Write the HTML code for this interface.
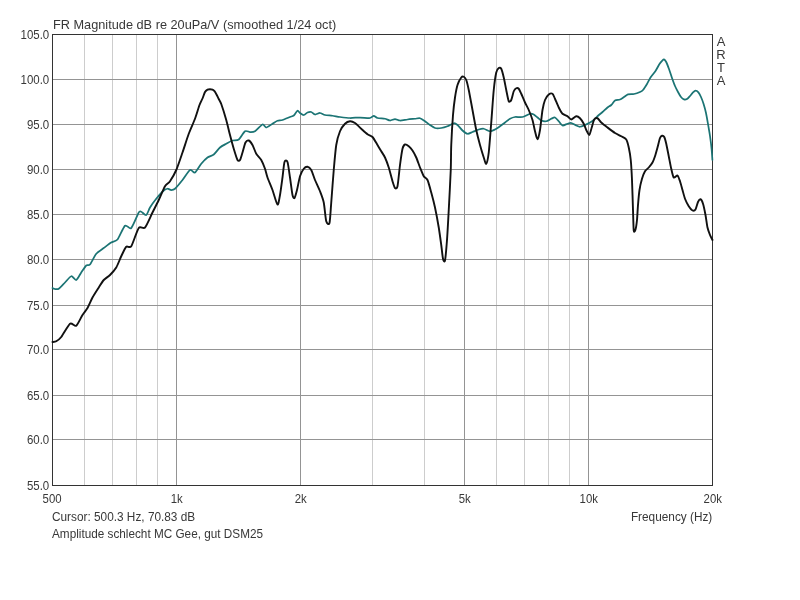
<!DOCTYPE html>
<html><head><meta charset="utf-8"><title>FR Magnitude</title>
<style>html,body{margin:0;padding:0;background:#fff;width:800px;height:600px;overflow:hidden}</style></head>
<body>
<svg width="800" height="600" viewBox="0 0 800 600" style="position:absolute;left:0;top:0">
<rect width="800" height="600" fill="#fff"/>
<line x1="84.5" y1="34.5" x2="84.5" y2="485.5" stroke="#cdcdcd" stroke-width="1"/>
<line x1="112.5" y1="34.5" x2="112.5" y2="485.5" stroke="#cdcdcd" stroke-width="1"/>
<line x1="136.5" y1="34.5" x2="136.5" y2="485.5" stroke="#cdcdcd" stroke-width="1"/>
<line x1="157.5" y1="34.5" x2="157.5" y2="485.5" stroke="#cdcdcd" stroke-width="1"/>
<line x1="372.5" y1="34.5" x2="372.5" y2="485.5" stroke="#cdcdcd" stroke-width="1"/>
<line x1="424.5" y1="34.5" x2="424.5" y2="485.5" stroke="#cdcdcd" stroke-width="1"/>
<line x1="496.5" y1="34.5" x2="496.5" y2="485.5" stroke="#cdcdcd" stroke-width="1"/>
<line x1="524.5" y1="34.5" x2="524.5" y2="485.5" stroke="#cdcdcd" stroke-width="1"/>
<line x1="548.5" y1="34.5" x2="548.5" y2="485.5" stroke="#cdcdcd" stroke-width="1"/>
<line x1="569.5" y1="34.5" x2="569.5" y2="485.5" stroke="#cdcdcd" stroke-width="1"/>
<line x1="52.5" y1="79.5" x2="712.5" y2="79.5" stroke="#949494" stroke-width="1"/>
<line x1="52.5" y1="124.5" x2="712.5" y2="124.5" stroke="#949494" stroke-width="1"/>
<line x1="52.5" y1="169.5" x2="712.5" y2="169.5" stroke="#949494" stroke-width="1"/>
<line x1="52.5" y1="214.5" x2="712.5" y2="214.5" stroke="#949494" stroke-width="1"/>
<line x1="52.5" y1="259.5" x2="712.5" y2="259.5" stroke="#949494" stroke-width="1"/>
<line x1="52.5" y1="305.5" x2="712.5" y2="305.5" stroke="#949494" stroke-width="1"/>
<line x1="52.5" y1="349.5" x2="712.5" y2="349.5" stroke="#949494" stroke-width="1"/>
<line x1="52.5" y1="395.5" x2="712.5" y2="395.5" stroke="#949494" stroke-width="1"/>
<line x1="52.5" y1="439.5" x2="712.5" y2="439.5" stroke="#949494" stroke-width="1"/>
<line x1="176.5" y1="34.5" x2="176.5" y2="485.5" stroke="#949494" stroke-width="1"/>
<line x1="300.5" y1="34.5" x2="300.5" y2="485.5" stroke="#949494" stroke-width="1"/>
<line x1="464.5" y1="34.5" x2="464.5" y2="485.5" stroke="#949494" stroke-width="1"/>
<line x1="588.5" y1="34.5" x2="588.5" y2="485.5" stroke="#949494" stroke-width="1"/>
<rect x="52.5" y="34.5" width="660.0" height="451.0" fill="none" stroke="#333" stroke-width="1"/>
<path d="M52.50,288.00 C52.81,288.12 54.22,288.91 55.00,289.00 C55.78,289.09 57.50,289.56 58.75,288.75 C60.00,287.94 63.44,284.06 65.00,282.50 C66.56,280.94 69.84,276.56 71.25,276.25 C72.66,275.94 75.00,280.47 76.25,280.00 C77.50,279.53 80.00,274.31 81.25,272.50 C82.50,270.69 85.16,266.50 86.25,265.50 C87.34,264.50 88.75,265.97 90.00,264.50 C91.25,263.03 94.53,255.81 96.25,253.75 C97.97,251.69 101.88,249.41 103.75,248.00 C105.62,246.59 109.53,243.56 111.25,242.50 C112.97,241.44 115.78,241.59 117.50,239.50 C119.22,237.41 123.28,227.19 125.00,225.75 C126.72,224.31 129.53,229.66 131.25,228.00 C132.97,226.34 137.50,214.53 138.75,212.50 C140.00,210.47 140.31,211.44 141.25,211.75 C142.19,212.06 145.16,215.53 146.25,215.00 C147.34,214.47 148.75,209.53 150.00,207.50 C151.25,205.47 154.53,200.88 156.25,198.75 C157.97,196.62 162.34,191.75 163.75,190.50 C165.16,189.25 166.56,188.81 167.50,188.75 C168.44,188.69 170.31,190.00 171.25,190.00 C172.19,190.00 173.59,190.00 175.00,188.75 C176.41,187.50 180.62,182.34 182.50,180.00 C184.38,177.66 188.44,170.94 190.00,170.00 C191.56,169.06 193.59,173.28 195.00,172.50 C196.41,171.72 199.69,165.62 201.25,163.75 C202.81,161.88 205.94,158.66 207.50,157.50 C209.06,156.34 212.19,155.75 213.75,154.50 C215.31,153.25 218.44,148.84 220.00,147.50 C221.56,146.16 224.69,144.62 226.25,143.75 C227.81,142.88 230.94,141.03 232.50,140.50 C234.06,139.97 237.19,140.66 238.75,139.50 C240.31,138.34 243.59,132.19 245.00,131.25 C246.41,130.31 248.75,132.00 250.00,132.00 C251.25,132.00 253.44,132.19 255.00,131.25 C256.56,130.31 261.09,124.97 262.50,124.50 C263.91,124.03 265.00,127.59 266.25,127.50 C267.50,127.41 271.09,124.59 272.50,123.75 C273.91,122.91 276.25,121.22 277.50,120.75 C278.75,120.28 280.94,120.47 282.50,120.00 C284.06,119.53 288.59,117.56 290.00,117.00 C291.41,116.44 292.81,116.28 293.75,115.50 C294.69,114.72 296.72,111.06 297.50,110.75 C298.28,110.44 299.22,112.47 300.00,113.00 C300.78,113.53 302.81,115.06 303.75,115.00 C304.69,114.94 306.56,112.88 307.50,112.50 C308.44,112.12 310.31,111.75 311.25,112.00 C312.19,112.25 313.91,114.38 315.00,114.50 C316.09,114.62 318.75,112.94 320.00,113.00 C321.25,113.06 323.44,114.66 325.00,115.00 C326.56,115.34 330.62,115.50 332.50,115.75 C334.38,116.00 337.81,116.72 340.00,117.00 C342.19,117.28 347.50,117.94 350.00,118.00 C352.50,118.06 357.50,117.50 360.00,117.50 C362.50,117.50 368.28,118.22 370.00,118.00 C371.72,117.78 372.81,115.75 373.75,115.75 C374.69,115.75 376.09,117.62 377.50,118.00 C378.91,118.38 383.44,118.44 385.00,118.75 C386.56,119.06 388.75,120.47 390.00,120.50 C391.25,120.53 393.75,119.00 395.00,119.00 C396.25,119.00 398.44,120.44 400.00,120.50 C401.56,120.56 405.62,119.72 407.50,119.50 C409.38,119.28 413.44,118.91 415.00,118.75 C416.56,118.59 418.75,117.94 420.00,118.25 C421.25,118.56 423.75,120.41 425.00,121.25 C426.25,122.09 428.75,124.16 430.00,125.00 C431.25,125.84 433.59,127.62 435.00,128.00 C436.41,128.38 439.69,128.22 441.25,128.00 C442.81,127.78 445.94,126.84 447.50,126.25 C449.06,125.66 452.50,123.41 453.75,123.25 C455.00,123.09 456.41,124.09 457.50,125.00 C458.59,125.91 461.25,129.41 462.50,130.50 C463.75,131.59 466.25,133.56 467.50,133.75 C468.75,133.94 471.09,132.53 472.50,132.00 C473.91,131.47 477.34,129.91 478.75,129.50 C480.16,129.09 482.34,128.53 483.75,128.75 C485.16,128.97 488.59,131.16 490.00,131.25 C491.41,131.34 493.75,130.12 495.00,129.50 C496.25,128.88 498.75,127.12 500.00,126.25 C501.25,125.38 503.75,123.44 505.00,122.50 C506.25,121.56 508.75,119.44 510.00,118.75 C511.25,118.06 513.44,117.22 515.00,117.00 C516.56,116.78 520.62,117.41 522.50,117.00 C524.38,116.59 528.59,114.06 530.00,113.75 C531.41,113.44 532.81,114.03 533.75,114.50 C534.69,114.97 536.56,116.75 537.50,117.50 C538.44,118.25 540.16,120.03 541.25,120.50 C542.34,120.97 545.00,121.47 546.25,121.25 C547.50,121.03 550.16,119.22 551.25,118.75 C552.34,118.28 554.06,117.19 555.00,117.50 C555.94,117.81 557.81,120.25 558.75,121.25 C559.69,122.25 561.41,125.19 562.50,125.50 C563.59,125.81 566.41,124.06 567.50,123.75 C568.59,123.44 570.16,122.78 571.25,123.00 C572.34,123.22 575.16,125.03 576.25,125.50 C577.34,125.97 578.91,126.81 580.00,126.75 C581.09,126.69 583.75,125.53 585.00,125.00 C586.25,124.47 588.91,123.12 590.00,122.50 C591.09,121.88 592.81,120.78 593.75,120.00 C594.69,119.22 596.41,117.25 597.50,116.25 C598.59,115.25 601.25,113.09 602.50,112.00 C603.75,110.91 606.41,108.38 607.50,107.50 C608.59,106.62 610.31,105.88 611.25,105.00 C612.19,104.12 613.91,101.19 615.00,100.50 C616.09,99.81 618.88,99.94 620.00,99.50 C621.12,99.06 623.00,97.64 624.00,97.00 C625.00,96.36 626.75,94.78 628.00,94.40 C629.25,94.03 632.50,94.30 634.00,94.00 C635.50,93.70 638.88,92.50 640.00,92.00 C641.12,91.50 642.12,91.00 643.00,90.00 C643.88,89.00 646.06,85.56 647.00,84.00 C647.94,82.44 649.44,79.12 650.50,77.50 C651.56,75.88 654.38,72.69 655.50,71.00 C656.62,69.31 658.65,65.30 659.50,64.00 C660.35,62.70 661.74,61.18 662.30,60.60 C662.86,60.02 663.51,59.23 664.00,59.40 C664.49,59.57 665.58,60.80 666.20,62.00 C666.83,63.20 668.27,67.00 669.00,69.00 C669.73,71.00 671.25,75.88 672.00,78.00 C672.75,80.12 674.25,84.25 675.00,86.00 C675.75,87.75 677.25,90.62 678.00,92.00 C678.75,93.38 680.25,96.08 681.00,97.00 C681.75,97.92 683.25,99.15 684.00,99.40 C684.75,99.65 686.25,99.42 687.00,99.00 C687.75,98.58 689.25,96.83 690.00,96.00 C690.75,95.17 692.30,93.08 693.00,92.40 C693.70,91.73 694.93,90.60 695.60,90.60 C696.27,90.60 697.73,91.60 698.40,92.40 C699.07,93.20 700.35,95.55 701.00,97.00 C701.65,98.45 702.98,102.00 703.60,104.00 C704.23,106.00 705.45,110.50 706.00,113.00 C706.55,115.50 707.50,121.12 708.00,124.00 C708.50,126.88 709.55,132.88 710.00,136.00 C710.45,139.12 711.30,146.00 711.60,149.00 C711.90,152.00 712.30,158.62 712.40,160.00" fill="none" stroke="#1b7474" stroke-width="1.75" stroke-linejoin="round" stroke-linecap="round"/>
<path d="M52.50,342.00 C52.97,341.91 55.16,341.88 56.25,341.25 C57.34,340.62 59.53,339.19 61.25,337.00 C62.97,334.81 68.12,325.16 70.00,323.75 C71.88,322.34 74.69,326.84 76.25,325.75 C77.81,324.66 81.09,317.22 82.50,315.00 C83.91,312.78 86.25,310.19 87.50,308.00 C88.75,305.81 91.09,300.06 92.50,297.50 C93.91,294.94 97.34,289.69 98.75,287.50 C100.16,285.31 102.34,281.56 103.75,280.00 C105.16,278.44 108.44,276.56 110.00,275.00 C111.56,273.44 114.84,269.84 116.25,267.50 C117.66,265.16 120.00,258.84 121.25,256.25 C122.50,253.66 125.00,248.00 126.25,246.75 C127.50,245.50 129.69,248.59 131.25,246.25 C132.81,243.91 137.03,230.34 138.75,228.00 C140.47,225.66 143.28,229.44 145.00,227.50 C146.72,225.56 150.78,215.94 152.50,212.50 C154.22,209.06 157.19,203.28 158.75,200.00 C160.31,196.72 163.59,188.59 165.00,186.25 C166.41,183.91 168.59,183.28 170.00,181.25 C171.41,179.22 174.69,173.59 176.25,170.00 C177.81,166.41 180.94,157.03 182.50,152.50 C184.06,147.97 187.19,137.97 188.75,133.75 C190.31,129.53 193.66,122.34 195.00,118.75 C196.34,115.16 198.56,107.53 199.50,105.00 C200.44,102.47 201.81,100.12 202.50,98.50 C203.19,96.88 204.38,93.11 205.00,92.00 C205.62,90.89 206.88,89.95 207.50,89.60 C208.12,89.25 209.38,89.20 210.00,89.20 C210.62,89.20 211.94,89.35 212.50,89.60 C213.06,89.85 214.00,90.59 214.50,91.20 C215.00,91.81 216.00,93.59 216.50,94.50 C217.00,95.41 217.91,97.31 218.50,98.50 C219.09,99.69 220.28,101.31 221.25,104.00 C222.22,106.69 225.16,116.12 226.25,120.00 C227.34,123.88 229.06,131.41 230.00,135.00 C230.94,138.59 232.81,145.62 233.75,148.75 C234.69,151.88 236.72,158.59 237.50,160.00 C238.28,161.41 239.38,160.94 240.00,160.00 C240.62,159.06 241.81,154.69 242.50,152.50 C243.19,150.31 244.72,144.00 245.50,142.50 C246.28,141.00 247.88,140.19 248.75,140.50 C249.62,140.81 251.56,143.34 252.50,145.00 C253.44,146.66 255.16,151.88 256.25,153.75 C257.34,155.62 260.16,158.12 261.25,160.00 C262.34,161.88 264.22,166.56 265.00,168.75 C265.78,170.94 266.56,174.84 267.50,177.50 C268.44,180.16 271.25,186.62 272.50,190.00 C273.75,193.38 276.56,203.88 277.50,204.50 C278.44,205.12 279.38,198.38 280.00,195.00 C280.62,191.62 281.94,181.62 282.50,177.50 C283.06,173.38 283.88,163.94 284.50,162.00 C285.12,160.06 286.81,160.06 287.50,162.00 C288.19,163.94 289.38,173.38 290.00,177.50 C290.62,181.62 291.94,192.44 292.50,195.00 C293.06,197.56 293.94,198.62 294.50,198.00 C295.06,197.38 296.31,192.72 297.00,190.00 C297.69,187.28 299.16,178.91 300.00,176.25 C300.84,173.59 302.81,169.94 303.75,168.75 C304.69,167.56 306.56,166.59 307.50,166.75 C308.44,166.91 310.31,168.34 311.25,170.00 C312.19,171.66 313.91,177.34 315.00,180.00 C316.09,182.66 318.91,188.44 320.00,191.25 C321.09,194.06 322.97,198.75 323.75,202.50 C324.53,206.25 325.53,218.69 326.25,221.25 C326.97,223.81 328.88,225.34 329.50,223.00 C330.12,220.66 330.72,209.12 331.25,202.50 C331.78,195.88 333.12,177.19 333.75,170.00 C334.38,162.81 335.47,149.84 336.25,145.00 C337.03,140.16 338.91,133.91 340.00,131.25 C341.09,128.59 343.75,125.00 345.00,123.75 C346.25,122.50 348.75,121.34 350.00,121.25 C351.25,121.16 353.59,122.06 355.00,123.00 C356.41,123.94 359.69,127.34 361.25,128.75 C362.81,130.16 366.09,133.22 367.50,134.25 C368.91,135.28 371.25,135.66 372.50,137.00 C373.75,138.34 376.41,143.22 377.50,145.00 C378.59,146.78 380.31,149.69 381.25,151.25 C382.19,152.81 384.06,155.47 385.00,157.50 C385.94,159.53 387.81,164.53 388.75,167.50 C389.69,170.47 391.72,178.69 392.50,181.25 C393.28,183.81 394.38,187.38 395.00,188.00 C395.62,188.62 396.88,189.12 397.50,186.25 C398.12,183.38 399.38,169.69 400.00,165.00 C400.62,160.31 401.88,151.31 402.50,148.75 C403.12,146.19 404.22,144.81 405.00,144.50 C405.78,144.19 407.81,145.50 408.75,146.25 C409.69,147.00 411.56,149.09 412.50,150.50 C413.44,151.91 415.31,155.38 416.25,157.50 C417.19,159.62 419.06,165.16 420.00,167.50 C420.94,169.84 422.81,174.69 423.75,176.25 C424.69,177.81 426.56,177.97 427.50,180.00 C428.44,182.03 430.31,189.06 431.25,192.50 C432.19,195.94 434.06,203.12 435.00,207.50 C435.94,211.88 437.97,222.81 438.75,227.50 C439.53,232.19 440.72,241.09 441.25,245.00 C441.78,248.91 442.53,256.81 443.00,258.75 C443.47,260.69 444.50,262.84 445.00,260.50 C445.50,258.16 446.53,246.31 447.00,240.00 C447.47,233.69 448.28,218.75 448.75,210.00 C449.22,201.25 450.44,178.12 450.75,170.00 C451.06,161.88 450.97,151.88 451.25,145.00 C451.53,138.12 452.53,120.94 453.00,115.00 C453.47,109.06 454.44,101.25 455.00,97.50 C455.56,93.75 456.72,87.50 457.50,85.00 C458.28,82.50 460.47,78.53 461.25,77.50 C462.03,76.47 463.12,76.44 463.75,76.75 C464.38,77.06 465.62,78.34 466.25,80.00 C466.88,81.66 467.97,86.25 468.75,90.00 C469.53,93.75 471.56,105.00 472.50,110.00 C473.44,115.00 475.31,125.62 476.25,130.00 C477.19,134.38 479.06,141.56 480.00,145.00 C480.94,148.44 482.97,155.16 483.75,157.50 C484.53,159.84 485.62,164.38 486.25,163.75 C486.88,163.12 488.12,157.66 488.75,152.50 C489.38,147.34 490.62,130.31 491.25,122.50 C491.88,114.69 493.12,96.25 493.75,90.00 C494.38,83.75 495.62,75.25 496.25,72.50 C496.88,69.75 498.12,68.47 498.75,68.00 C499.38,67.53 500.62,67.56 501.25,68.75 C501.88,69.94 503.12,74.84 503.75,77.50 C504.38,80.16 505.62,87.03 506.25,90.00 C506.88,92.97 508.12,100.00 508.75,101.25 C509.38,102.50 510.62,101.25 511.25,100.00 C511.88,98.75 513.12,92.72 513.75,91.25 C514.38,89.78 515.62,88.56 516.25,88.25 C516.88,87.94 518.12,88.06 518.75,88.75 C519.38,89.44 520.47,92.03 521.25,93.75 C522.03,95.47 524.06,100.47 525.00,102.50 C525.94,104.53 527.81,107.81 528.75,110.00 C529.69,112.19 531.72,117.34 532.50,120.00 C533.28,122.66 534.38,128.84 535.00,131.25 C535.62,133.66 536.88,139.41 537.50,139.25 C538.12,139.09 539.38,133.66 540.00,130.00 C540.62,126.34 541.88,113.75 542.50,110.00 C543.12,106.25 544.22,101.94 545.00,100.00 C545.78,98.06 547.81,95.28 548.75,94.50 C549.69,93.72 551.72,93.22 552.50,93.75 C553.28,94.28 554.22,97.03 555.00,98.75 C555.78,100.47 557.81,105.62 558.75,107.50 C559.69,109.38 561.41,112.66 562.50,113.75 C563.59,114.84 566.41,115.53 567.50,116.25 C568.59,116.97 570.16,119.50 571.25,119.50 C572.34,119.50 575.16,116.41 576.25,116.25 C577.34,116.09 579.06,117.31 580.00,118.25 C580.94,119.19 582.97,122.28 583.75,123.75 C584.53,125.22 585.56,128.59 586.25,130.00 C586.94,131.41 588.56,135.31 589.25,135.00 C589.94,134.69 591.12,129.44 591.75,127.50 C592.38,125.56 593.53,120.66 594.25,119.50 C594.97,118.34 596.62,117.88 597.50,118.25 C598.38,118.62 600.00,121.34 601.25,122.50 C602.50,123.66 605.78,126.19 607.50,127.50 C609.22,128.81 613.28,131.91 615.00,133.00 C616.72,134.09 619.84,135.44 621.25,136.25 C622.66,137.06 625.31,138.09 626.25,139.50 C627.19,140.91 628.19,144.94 628.75,147.50 C629.31,150.06 630.34,155.94 630.75,160.00 C631.16,164.06 631.72,173.75 632.00,180.00 C632.28,186.25 632.78,203.66 633.00,210.00 C633.22,216.34 633.44,228.31 633.75,230.75 C634.06,233.19 635.09,230.84 635.50,229.50 C635.91,228.16 636.69,223.06 637.00,220.00 C637.31,216.94 637.69,208.75 638.00,205.00 C638.31,201.25 639.00,193.28 639.50,190.00 C640.00,186.72 641.31,181.09 642.00,178.75 C642.69,176.41 644.16,172.66 645.00,171.25 C645.84,169.84 647.81,168.59 648.75,167.50 C649.69,166.41 651.72,163.91 652.50,162.50 C653.28,161.09 654.38,158.12 655.00,156.25 C655.62,154.38 656.88,149.78 657.50,147.50 C658.12,145.22 659.44,139.47 660.00,138.00 C660.56,136.53 661.47,135.88 662.00,135.75 C662.53,135.62 663.72,136.00 664.25,137.00 C664.78,138.00 665.69,141.34 666.25,143.75 C666.81,146.16 668.12,153.12 668.75,156.25 C669.38,159.38 670.62,166.09 671.25,168.75 C671.88,171.41 672.97,176.66 673.75,177.50 C674.53,178.34 676.72,175.03 677.50,175.50 C678.28,175.97 679.38,179.44 680.00,181.25 C680.62,183.06 681.88,187.81 682.50,190.00 C683.12,192.19 684.22,196.72 685.00,198.75 C685.78,200.78 687.81,204.78 688.75,206.25 C689.69,207.72 691.66,210.09 692.50,210.50 C693.34,210.91 694.81,210.56 695.50,209.50 C696.19,208.44 697.38,203.28 698.00,202.00 C698.62,200.72 699.88,199.03 700.50,199.25 C701.12,199.47 702.38,201.78 703.00,203.75 C703.62,205.72 704.94,212.03 705.50,215.00 C706.06,217.97 706.94,225.00 707.50,227.50 C708.06,230.00 709.38,233.44 710.00,235.00 C710.62,236.56 712.19,239.38 712.50,240.00" fill="none" stroke="#111" stroke-width="1.9" stroke-linejoin="round" stroke-linecap="round"/>
<g style="font-family:'Liberation Sans',Arial,sans-serif;font-size:12px;fill:#383838">
<text transform="translate(53,29) scale(0.981,1)" font-size="13">FR Magnitude dB re 20uPa/V (smoothed 1/24 oct)</text>
<text transform="translate(49.2,39.0) scale(0.955,1)" text-anchor="end">105.0</text>
<text transform="translate(49.2,84.0) scale(0.955,1)" text-anchor="end">100.0</text>
<text transform="translate(49.2,129.0) scale(0.955,1)" text-anchor="end">95.0</text>
<text transform="translate(49.2,174.0) scale(0.955,1)" text-anchor="end">90.0</text>
<text transform="translate(49.2,219.0) scale(0.955,1)" text-anchor="end">85.0</text>
<text transform="translate(49.2,264.0) scale(0.955,1)" text-anchor="end">80.0</text>
<text transform="translate(49.2,310.0) scale(0.955,1)" text-anchor="end">75.0</text>
<text transform="translate(49.2,354.0) scale(0.955,1)" text-anchor="end">70.0</text>
<text transform="translate(49.2,400.0) scale(0.955,1)" text-anchor="end">65.0</text>
<text transform="translate(49.2,444.0) scale(0.955,1)" text-anchor="end">60.0</text>
<text transform="translate(49.2,490.0) scale(0.955,1)" text-anchor="end">55.0</text>
<text transform="translate(52.1,502.6) scale(0.95,1)" text-anchor="middle">500</text>
<text transform="translate(176.8,502.6) scale(0.95,1)" text-anchor="middle">1k</text>
<text transform="translate(300.8,502.6) scale(0.95,1)" text-anchor="middle">2k</text>
<text transform="translate(464.8,502.6) scale(0.95,1)" text-anchor="middle">5k</text>
<text transform="translate(588.8,502.6) scale(0.95,1)" text-anchor="middle">10k</text>
<text transform="translate(712.8,502.6) scale(0.95,1)" text-anchor="middle">20k</text>
<text transform="translate(52,520.8) scale(0.985,1)">Cursor: 500.3 Hz, 70.83 dB</text>
<text transform="translate(52,538) scale(0.98,1)">Amplitude schlecht MC Gee, gut DSM25</text>
<text transform="translate(712.3,520.8) scale(0.985,1)" text-anchor="end">Frequency (Hz)</text>
<text transform="translate(721,46.0) scale(1.0,1)" text-anchor="middle" font-size="13">A</text>
<text transform="translate(721,58.9) scale(1.0,1)" text-anchor="middle" font-size="13">R</text>
<text transform="translate(721,71.8) scale(1.0,1)" text-anchor="middle" font-size="13">T</text>
<text transform="translate(721,84.7) scale(1.0,1)" text-anchor="middle" font-size="13">A</text>
</g>
</svg>
</body></html>
